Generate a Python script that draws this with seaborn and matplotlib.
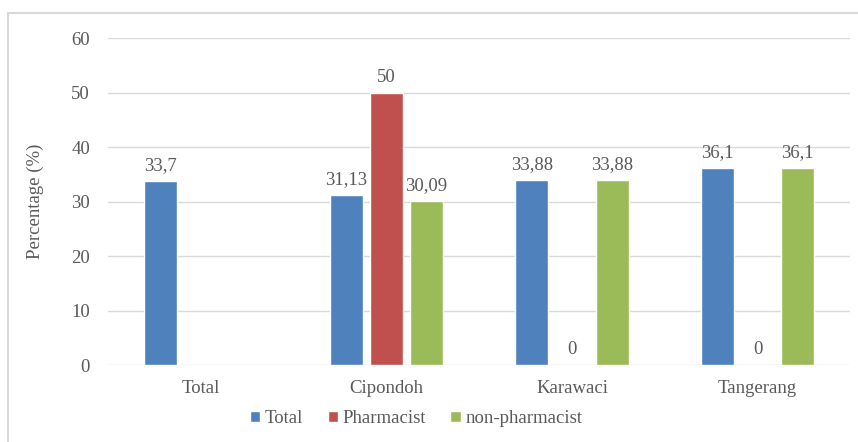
import matplotlib
matplotlib.use("Agg")
import matplotlib.pyplot as plt
import seaborn as sns
import pandas as pd
import numpy as np
from matplotlib.patches import Rectangle

# datos
regiones = ["Total", "Cipondoh", "Karawaci", "Tangerang"]
grupos = ["Total", "Pharmacist", "non-pharmacist"]
valores_total = [33.7, 31.13, 33.88, 36.1]
valores_pharmacist = [np.nan, 50, 0, 0]
valores_non_pharmacist = [np.nan, 30.09, 33.88, 36.1]
colores = ["#4F81BD", "#C0504D", "#9BBB59"]

filas = []
for serie, vals in zip(grupos, [valores_total, valores_pharmacist, valores_non_pharmacist]):
    for reg, v in zip(regiones, vals):
        filas.append({"region": reg, "grupo": serie, "valor": v})
df = pd.DataFrame(filas)

sns.set_style("white")
plt.rcParams["font.family"] = ["Liberation Serif", "DejaVu Serif"]
gris = "#595959"
fs = 13.5

fig = plt.figure(figsize=(8.58, 4.42), dpi=100)
ax = fig.add_axes([0.126, 0.174, 0.865, 0.74])

# marco exterior
fig.patches.append(Rectangle((8 / 858, -0.05), 1.0, (442 - 13) / 442 + 0.05,
                             transform=fig.transFigure, fill=False,
                             edgecolor="#d9d9d9", linewidth=1.5))

sns.barplot(data=df, x="region", y="valor", hue="grupo", order=regiones,
            hue_order=grupos, palette=colores, width=0.65, gap=0.18,
            saturation=1, ax=ax, legend=True)

for cont in ax.containers:
    etiquetas = [f"{v:g}".replace(".", ",") for v in cont.datavalues]
    ax.bar_label(cont, labels=etiquetas, padding=5, fontsize=fs, color=gris)

ax.set_ylim(0, 60)
ax.set_xlim(-0.5, 3.5)
ax.set_yticks(range(0, 61, 10))
ax.grid(axis="y", color="#d9d9d9", linewidth=1)
ax.set_axisbelow(True)
for s in ax.spines.values():
    s.set_visible(False)
ax.tick_params(axis="x", length=0, pad=11, labelsize=fs, labelcolor=gris)
ax.tick_params(axis="y", length=0, pad=13, labelsize=fs, labelcolor=gris)
ax.set_xlabel("")
ax.set_ylabel("Percentage (%)", fontsize=fs, color=gris, labelpad=20)

handles, labels = ax.get_legend_handles_labels()
ax.get_legend().remove()
fig.legend(handles, labels, loc="center", bbox_to_anchor=(0.485, 0.053), ncol=3,
           frameon=False, prop={"family": "Liberation Serif", "size": fs},
           labelcolor=gris, handlelength=0.55, handleheight=0.55,
           handletextpad=0.25, columnspacing=1.3)

fig.savefig("out.png", dpi=100)
